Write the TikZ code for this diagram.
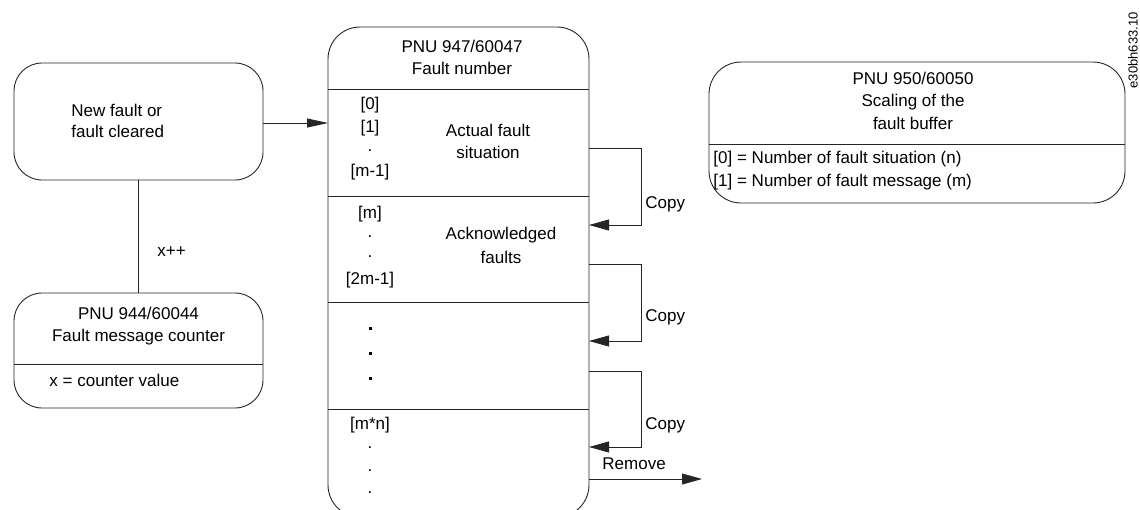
\documentclass[tikz,border=0pt]{standalone}
\usepackage{fontspec}
\setmainfont{Liberation Sans}
\usetikzlibrary{arrows.meta}
\begin{document}
\begin{tikzpicture}[x=1pt,y=-1pt,
  line width=0.9pt, draw=black!85,
  box/.style={draw=black!85, rectangle, inner sep=0pt, outer sep=0pt},
  txt/.style={inner sep=0pt, text height=12pt, text depth=0pt, font=\fontsize{17}{20}\selectfont},
  lbl/.style={txt, anchor=west},
  idx/.style={txt},
  arr/.style={-{Triangle[length=21pt,width=9pt]}},
  carr/.style={-{Triangle[length=20pt,width=11pt]}},
  bdot/.style={fill=black, minimum size=3pt, inner sep=0pt, rectangle}
]
\useasboundingbox (0,0) rectangle (1140,509);
\clip (0,0) rectangle (1140,509);

% boxes
\node[box, rounded corners=28pt, minimum width=249pt, minimum height=117pt] (A) at (138.5,121.5) {};
\node[box, rounded corners=28pt, minimum width=249pt, minimum height=115pt] (C) at (138.5,350.5) {};
\node[box, rounded corners=32pt, minimum width=261pt, minimum height=490pt] (F) at (458.5,272) {};
\node[box, rounded corners=32pt, minimum width=416pt, minimum height=141pt] (S) at (917,132.5) {};

% dividers
\coordinate (c1) at (14,364);
\draw (c1) -- (c1 -| C.east);
\coordinate (f1) at (328,89);
\coordinate (f2) at (328,196);
\coordinate (f3) at (328,302);
\coordinate (f4) at (328,409);
\draw (f1) -- (f1 -| F.east);
\draw (f2) -- (f2 -| F.east);
\draw (f3) -- (f3 -| F.east);
\draw (f4) -- (f4 -| F.east);
\coordinate (s1) at (709,144);
\draw (s1) -- (s1 -| S.east);

% box A text
\node[lbl] (a1) at (71,110) {New fault or};
\node[lbl] (a2) at (71,131) {fault cleared};

% connectors left
\coordinate (ae) at (263,123);
\draw[arr] (ae) -- (ae -| F.west);
\draw (A.south) -- (C.north);
\node[lbl] (xpp) at (157,250) {x++};

% counter box text
\node[txt] (c1t) at (138.5,313) {PNU 944/60044};
\node[txt] (c2t) at (138.5,335) {Fault message counter};
\node[lbl] (c3t) at (49,380) {x = counter value};

% fault number box text
\node[txt] (ft1) at (462,46) {PNU 947/60047};
\node[txt] (ft2) at (462,68) {Fault number};
\node[idx] (i0) at (370,103) {[0]};
\node[idx] (i1) at (370,126) {[1]};
\node[idx] (i2) at (370,145) {.};
\node[idx] (i3) at (370,170) {[m-1]};
\node[txt] (af1) at (488,130) {Actual fault};
\node[txt] (af2) at (488,152) {situation};
\node[idx] (j0) at (370,212) {[m]};
\node[idx] (j1) at (370,231) {.};
\node[idx] (j2) at (370,251) {.};
\node[idx] (j3) at (370,278) {[2m-1]};
\node[txt] (ak1) at (501,233) {Acknowledged};
\node[txt] (ak2) at (501,257) {faults};
\node[bdot] (d1) at (370,328) {};
\node[bdot] (d2) at (370,353) {};
\node[bdot] (d3) at (370,378) {};
\node[idx] (k0) at (370,423) {[m*n]};
\node[idx] (k1) at (370,442) {.};
\node[idx] (k2) at (370,465) {.};
\node[idx] (k3) at (370,487) {.};

% copy loops
\coordinate (p1a) at (589,148);
\coordinate (p1b) at (589,225);
\draw[carr] (p1a) -- ++(52,0) |- (p1b);
\node[lbl] (cp1) at (645,202) {Copy};
\coordinate (p2a) at (589,264);
\coordinate (p2b) at (589,341);
\draw[carr] (p2a) -- ++(52,0) |- (p2b);
\node[lbl] (cp2) at (645,315) {Copy};
\coordinate (p3a) at (589,371);
\coordinate (p3b) at (589,447);
\draw[carr] (p3a) -- ++(52,0) |- (p3b);
\node[lbl] (cp3) at (645,423) {Copy};
\coordinate (r0) at (589,479);
\coordinate (r1) at (702,479);
\draw[carr] (r0) -- (r1);
\node[lbl] (rm) at (602,463) {Remove};

% scaling box text
\node[txt] (st1) at (913,78) {PNU 950/60050};
\node[txt] (st2) at (913,100) {Scaling of the};
\node[txt] (st3) at (913,123) {fault buffer};
\node[lbl] (sl1) at (713,157) {[0] = Number of fault situation (n)};
\node[lbl] (sl2) at (713,180) {[1] = Number of fault message (m)};

% reference id
\node[inner sep=0pt, rotate=90, anchor=east, font=\fontsize{13}{15}\selectfont] (ref) at (1133,12) {e30bh633.10};
\end{tikzpicture}
\end{document}
